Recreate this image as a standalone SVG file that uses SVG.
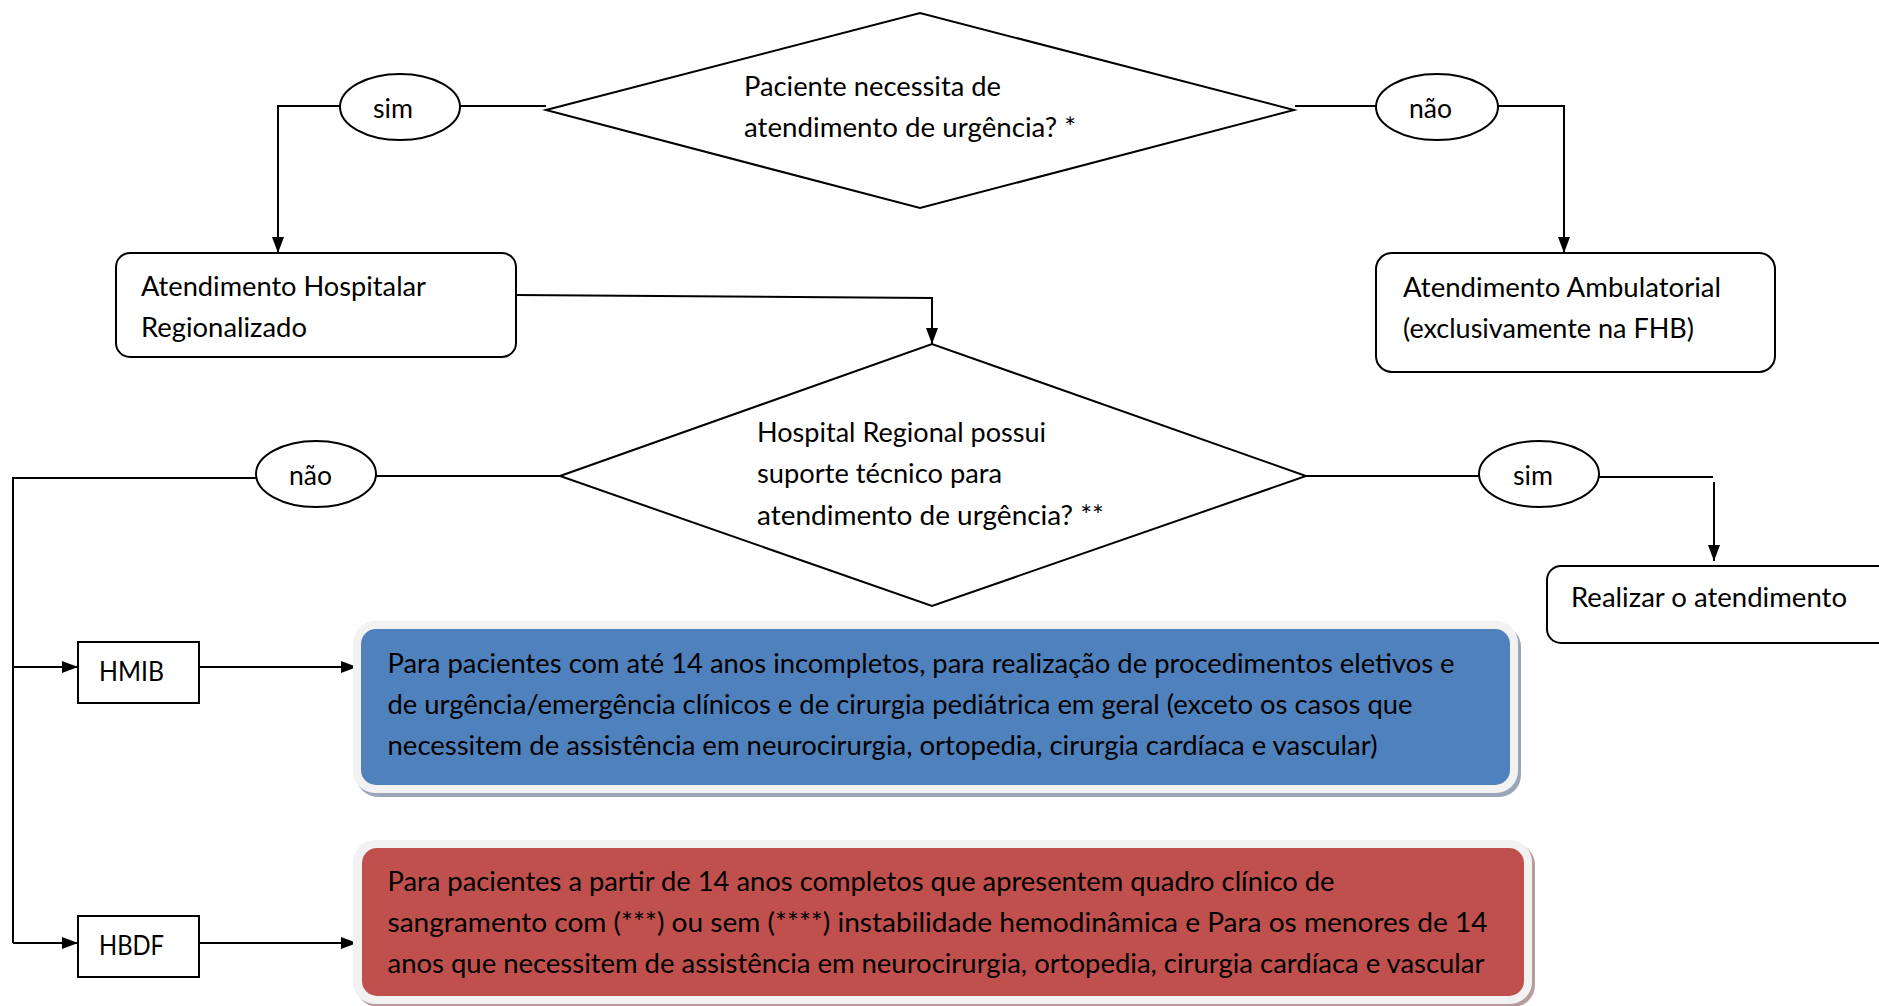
<svg xmlns="http://www.w3.org/2000/svg" width="1879" height="1006" viewBox="0 0 1879 1006">
<defs>
<marker id="arr" viewBox="0 0 16 12" refX="16" refY="6" markerWidth="16" markerHeight="12" markerUnits="userSpaceOnUse" orient="auto">
<path d="M0,0 L16,6 L0,12 z" fill="#000"/>
</marker>
</defs>
<style>
.t{font-family:"Lato","Liberation Sans",sans-serif;font-size:26px;fill:#000}
.shape{fill:#fff;stroke:#000;stroke-width:2}
.conn{fill:none;stroke:#000;stroke-width:2}
.arrow{marker-end:url(#arr)}
</style>
<rect width="1879" height="1006" fill="#fff"/>

<g id="connectors">
<path class="conn arrow" d="M340,106 H278 V253"/>
<path class="conn" d="M460,106 H546"/>
<path class="conn" d="M1295,106 H1376"/>
<path class="conn arrow" d="M1498,106 H1564 V253"/>
<path class="conn arrow" d="M516,295 L932,298 V344"/>
<path class="conn" d="M560,476 H376"/>
<path class="conn" d="M256,478 H13 V943"/>
<path class="conn arrow" d="M13,667 H78"/>
<path class="conn arrow" d="M13,943 H78"/>
<path class="conn arrow" d="M199,667 H357"/>
<path class="conn arrow" d="M199,943 H357"/>
<path class="conn" d="M1306,476 H1479"/>
<path class="conn" d="M1599,477 H1713"/>
<path class="conn arrow" d="M1714,482 V561"/>
</g>

<g id="decision1">
<polygon class="shape" points="546,110 920,13 1294,110 920,208"/>
<text class="t" x="744" y="96" textLength="257" lengthAdjust="spacingAndGlyphs">Paciente necessita de</text>
<text class="t" x="744" y="137" textLength="332" lengthAdjust="spacingAndGlyphs">atendimento de urgência? *</text>
</g>

<g id="label-sim-1">
<ellipse class="shape" cx="400" cy="107" rx="60" ry="33"/>
<text class="t" x="373" y="118" textLength="40" lengthAdjust="spacingAndGlyphs">sim</text>
</g>

<g id="label-nao-1">
<ellipse class="shape" cx="1437" cy="107" rx="61" ry="33"/>
<text class="t" x="1409" y="118" textLength="43" lengthAdjust="spacingAndGlyphs">não</text>
</g>

<g id="hospitalar">
<rect class="shape" x="116" y="253" width="400" height="104" rx="14"/>
<text class="t" x="141" y="296" textLength="285" lengthAdjust="spacingAndGlyphs">Atendimento Hospitalar</text>
<text class="t" x="141" y="337" textLength="166" lengthAdjust="spacingAndGlyphs">Regionalizado</text>
</g>

<g id="ambulatorial">
<rect class="shape" x="1376" y="253" width="399" height="119" rx="16"/>
<text class="t" x="1403" y="297" textLength="318" lengthAdjust="spacingAndGlyphs">Atendimento Ambulatorial</text>
<text class="t" x="1403" y="338" textLength="291" lengthAdjust="spacingAndGlyphs">(exclusivamente na FHB)</text>
</g>

<g id="decision2">
<polygon class="shape" points="560,476 932,344 1306,476 932,606"/>
<text class="t" x="757" y="442" textLength="289" lengthAdjust="spacingAndGlyphs">Hospital Regional possui</text>
<text class="t" x="757" y="483" textLength="245" lengthAdjust="spacingAndGlyphs">suporte técnico para</text>
<text class="t" x="757" y="525" textLength="347" lengthAdjust="spacingAndGlyphs">atendimento de urgência? **</text>
</g>

<g id="label-nao-2">
<ellipse class="shape" cx="316" cy="474" rx="60" ry="33"/>
<text class="t" x="289" y="485" textLength="43" lengthAdjust="spacingAndGlyphs">não</text>
</g>

<g id="label-sim-2">
<ellipse class="shape" cx="1539" cy="474" rx="60" ry="33"/>
<text class="t" x="1513" y="485" textLength="40" lengthAdjust="spacingAndGlyphs">sim</text>
</g>

<g id="realizar">
<rect class="shape" x="1547" y="566" width="345" height="77" rx="14"/>
<text class="t" x="1571" y="607" textLength="276" lengthAdjust="spacingAndGlyphs">Realizar o atendimento</text>
</g>

<g id="hmib">
<rect class="shape" x="78" y="642" width="121" height="61"/>
<text class="t" x="99" y="681" textLength="65" lengthAdjust="spacingAndGlyphs">HMIB</text>
</g>

<g id="hbdf">
<rect class="shape" x="78" y="916" width="121" height="61"/>
<text class="t" x="99" y="955" textLength="65" lengthAdjust="spacingAndGlyphs">HBDF</text>
</g>

<g id="hmib-info">
<rect x="356" y="625" width="1165" height="172" rx="22" fill="#98a6b8"/>
<rect x="353" y="621" width="1165" height="172" rx="22" fill="#f2f2f2"/>
<rect x="361" y="629" width="1149" height="156" rx="15" fill="#4f81bd"/>
<text class="t" x="387.5" y="673" textLength="1067" lengthAdjust="spacingAndGlyphs">Para pacientes com até 14 anos incompletos, para realização de procedimentos eletivos e</text>
<text class="t" x="387.5" y="714" textLength="1025" lengthAdjust="spacingAndGlyphs">de urgência/emergência clínicos e de cirurgia pediátrica em geral (exceto os casos que</text>
<text class="t" x="387.5" y="755" textLength="990" lengthAdjust="spacingAndGlyphs">necessitem de assistência em neurocirurgia, ortopedia, cirurgia cardíaca e vascular)</text>
</g>

<g id="hbdf-info">
<rect x="356" y="843" width="1179" height="164" rx="22" fill="#b89b9b"/>
<rect x="353" y="840" width="1179" height="164" rx="22" fill="#f2f2f2"/>
<rect x="362" y="848" width="1162" height="148" rx="15" fill="#c0504d"/>
<text class="t" x="387.5" y="891" textLength="947" lengthAdjust="spacingAndGlyphs">Para pacientes a partir de 14 anos completos que apresentem quadro clínico de</text>
<text class="t" x="387.5" y="932" textLength="1100" lengthAdjust="spacingAndGlyphs">sangramento com (***) ou sem (****) instabilidade hemodinâmica e Para os menores de 14</text>
<text class="t" x="387.5" y="973" textLength="1097" lengthAdjust="spacingAndGlyphs">anos que necessitem de assistência em neurocirurgia, ortopedia, cirurgia cardíaca e vascular</text>
</g>
</svg>
